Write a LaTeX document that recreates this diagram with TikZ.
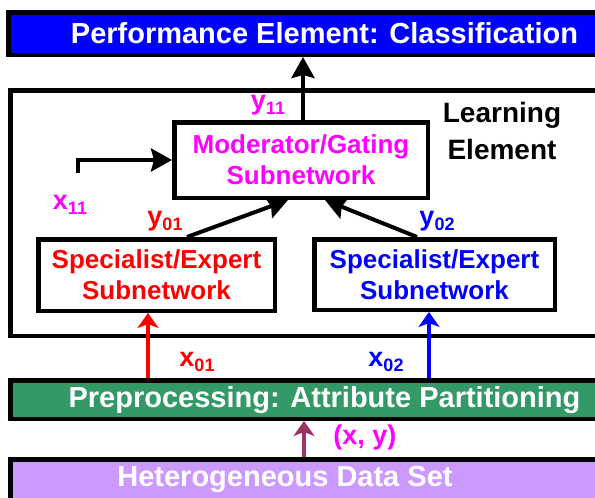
\documentclass[tikz,border=0pt]{standalone}
\usepackage{fontspec}
\setmainfont{Liberation Sans}
\usetikzlibrary{arrows.meta}
\definecolor{perfblue}{RGB}{0,0,255}
\definecolor{prepgreen}{RGB}{51,153,102}
\definecolor{datalilac}{RGB}{204,153,255}
\definecolor{pairpurple}{RGB}{153,51,102}
\definecolor{gatemag}{RGB}{255,0,255}
\newcommand{\sublab}[2]{#1\raisebox{-0.35ex}{\fontsize{18}{18}\selectfont #2}}
\tikzset{
  bar/.style={draw=black, line width=4.5pt, inner sep=0pt},
  bartext/.style={text=white, font=\fontsize{29}{29}\selectfont\bfseries},
  subnet/.style={draw=black, line width=4.5pt, fill=white, inner sep=0pt, align=center,
    font=\fontsize{26}{31}\selectfont\bfseries},
  lab/.style={inner sep=0pt, font=\fontsize{27}{27}\selectfont\bfseries},
  flow/.style={line width=4pt, -{Stealth[length=21pt,width=23pt,inset=3pt]}},
  feed/.style={line width=3.5pt, -{Stealth[length=15pt,width=21pt,inset=4pt]}},
}
\begin{document}
\begin{tikzpicture}[x=1pt,y=-1pt]
  \useasboundingbox (0,0) rectangle (595,498);
  \clip (0,0) rectangle (595,498);

  % Bars
  \node[bar, fill=perfblue, minimum width=639.5pt, minimum height=42.5pt] (perf) at (328,33.5) {};
  \node[bartext] (perftxt) at (324.5,33) {Performance Element: Classification};
  \node[bar, fill=prepgreen, minimum width=637.5pt, minimum height=38.5pt] (prep) at (329,399.5) {};
  \node[bartext] (preptxt) at (324.5,400) {Preprocessing: Attribute Partitioning};
  \node[bar, fill=datalilac, minimum width=637.5pt, minimum height=48.5pt] (data) at (329,483.5) {};
  \node[bartext] (datatxt) at (285,479) {Heterogeneous Data Set};

  % Learning element
  \node[bar, minimum width=637.5pt, minimum height=245.5pt] (learn) at (329,213) {};
  \node[lab, align=center, font=\fontsize{28}{37}\selectfont\bfseries] (learntxt) at (502,131) {Learning\\Element};

  % Subnetworks
  \node[subnet, text=gatemag, minimum width=253.5pt, minimum height=75.5pt] (moder) at (301,160) {Moderator/Gating\\Subnetwork};
  \node[subnet, text=red, minimum width=236.5pt, minimum height=71.5pt] (lspec) at (156.5,275) {Specialist/Expert\\Subnetwork};
  \node[subnet, text=blue, minimum width=240.5pt, minimum height=70.5pt] (rspec) at (434.5,274.5) {Specialist/Expert\\Subnetwork};

  % Connectors
  \coordinate (x11in) at (78,173);
  \draw[flow] (x11in) |- (moder.west);
  \draw[flow] ([xshift=2pt]moder.north) -- ([xshift=2pt]moder.north |- perf.south);
  \draw[flow] ([xshift=30.5pt]lspec.north) -- ([xshift=-13pt]moder.south);
  \draw[flow] ([xshift=-17.5pt]rspec.north) -- ([xshift=24pt]moder.south);
  \draw[feed, red] ([xshift=-8.5pt]prep.north -| lspec.south) -- ([xshift=-8.5pt]lspec.south);
  \draw[feed, blue] ([xshift=-5.5pt]prep.north -| rspec.south) -- ([xshift=-5.5pt]rspec.south);
  \draw[feed, pairpurple] (304,457) -- (304,421);

  % Labels
  \node[lab, text=gatemag] (y11) at (268,105) {\sublab{y}{11}};
  \node[lab, text=gatemag] (x11) at (70,205) {\sublab{x}{11}};
  \node[lab, text=red] (y01) at (165,221) {\sublab{y}{01}};
  \node[lab, text=blue] (y02) at (437,221) {\sublab{y}{02}};
  \node[lab, text=red] (x01) at (197,362) {\sublab{x}{01}};
  \node[lab, text=blue] (x02) at (386,362) {\sublab{x}{02}};
  \node[lab, text=gatemag] (pair) at (365,438) {(x, y)};
\end{tikzpicture}
\end{document}
